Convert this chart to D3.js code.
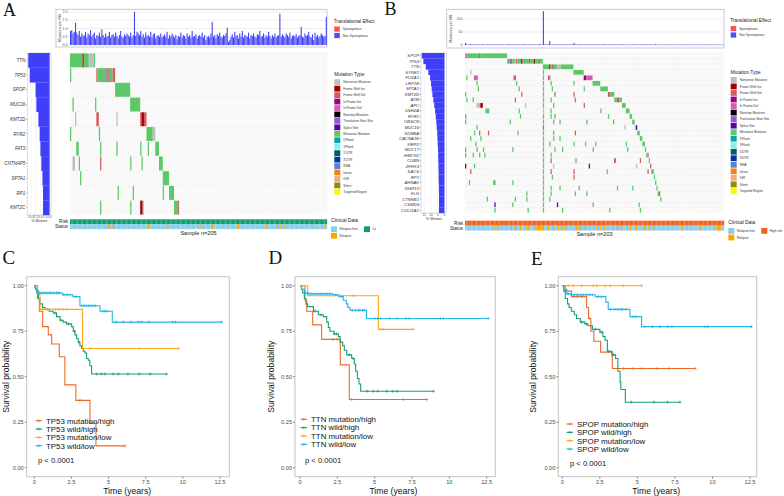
<!DOCTYPE html>
<html><head><meta charset="utf-8">
<script src="https://cdn.jsdelivr.net/npm/d3@7"></script>
<style>body{margin:0;background:#fff}svg{display:block}</style>
</head><body>
<svg id="c" width="784" height="496"></svg>
<script>
// ---------------- DATA ----------------
const genesA = ["TTN","TP53","SPOP","MUC16","KMT2D","RYR2","FAT3","CNTNAP5","SPTA1","RP1","KMT2C"];
const pctA = [11.6,10.8,7.6,7.2,6.1,5.4,5.0,4.5,3.9,3.6,3.6];
const pctTicksA = [10,7.5,5,2.5,0];
const tmbTicksA = [0,0.5,1,1.5,2];
const tmbA = [
0.85,0.9,0.7,0.8,1.35,0.75,0.6,0.85,0.5,0.7,
0.55,0.6,0.8,0.45,0.7,0.6,0.9,0.5,0.65,0.75,
0.4,0.6,0.55,0.75,0.5,0.95,0.6,0.45,0.7,0.5,
0.55,0.8,0.45,0.6,0.65,0.5,0.75,0.55,0.4,0.6,
0.85,0.5,0.45,0.65,0.55,0.7,0.6,0.5,0.75,0.45,
0.6,2.0,0.55,0.8,0.7,0.6,0.85,0.5,0.65,0.45,
0.75,0.55,0.6,0.5,0.8,0.45,0.65,0.7,0.4,0.55,
0.6,0.5,0.7,0.45,0.55,0.65,0.5,0.8,0.4,0.6,
0.5,0.7,0.55,0.45,0.6,0.35,0.55,0.5,0.75,0.45,
0.6,0.55,0.4,0.7,0.5,0.6,0.45,0.85,0.5,0.55,
0.65,0.4,0.55,0.6,0.5,0.75,0.45,0.6,0.3,0.5,
0.55,0.45,0.7,1.4,0.5,0.6,0.4,0.65,0.55,0.75,
0.5,0.45,0.6,0.55,0.7,1.05,0.2,0.3,0.5,0.65,
0.45,0.8,0.55,0.6,0.4,0.7,0.5,0.85,0.45,0.6,
0.55,0.5,0.75,0.4,0.6,0.55,0.7,0.5,0.45,0.65,
0.6,0.85,0.5,0.55,0.7,0.45,0.6,0.5,0.8,0.55,
0.4,0.6,0.5,0.7,0.45,0.55,0.6,1.9,0.5,0.65,
0.55,0.45,0.7,0.6,0.5,0.75,0.4,0.55,0.6,0.5,
0.65,0.45,0.55,0.6,1.1,0.5,0.45,0.7,0.55,0.6,
0.8,0.5,0.45,0.65,0.3,0.75,0.5,0.6,0.45,0.55,
0.7,0.6,0.5,0.55,1.7];
const mutA = [
["TTN",0,9,"MS"],["TTN",10,10,"FI"],["TTN",11,14,"MS"],["TTN",15,18,"NS"],["TTN",19,19,"MS"],
["TP53",0,0,"MS"],["TP53",21,21,"FD"],["TP53",22,28,"MS"],["TP53",29,29,"TS"],["TP53",30,30,"FD"],["TP53",31,33,"MS"],["TP53",34,35,"FD"],
["SPOP",36,47,"MS"],
["MUC16",2,2,"MS"],["MUC16",20,20,"MS"],["MUC16",48,55,"MS"],
["KMT2D",4,4,"NS"],["KMT2D",21,22,"FD"],["KMT2D",37,37,"NS"],["KMT2D",56,56,"FD"],["KMT2D",57,58,"FI"],["KMT2D",59,60,"FD"],
["RYR2",0,0,"MS"],["RYR2",23,23,"MS"],["RYR2",61,65,"MS"],["RYR2",66,67,"NS"],
["FAT3",5,6,"MS"],["FAT3",24,24,"MS"],["FAT3",37,37,"MS"],["FAT3",56,56,"MS"],["FAT3",62,62,"MS"],["FAT3",68,70,"MS"],
["CNTNAP5",2,3,"NS"],["CNTNAP5",7,7,"MS"],["CNTNAP5",24,24,"FD"],["CNTNAP5",48,48,"MS"],["CNTNAP5",57,57,"MS"],["CNTNAP5",71,73,"MS"],
["SPTA1",8,8,"MS"],["SPTA1",74,78,"MS"],
["RP1",38,38,"MS"],["RP1",50,50,"MS"],["RP1",74,74,"MS"],["RP1",79,82,"MS"],
["KMT2C",24,24,"MS"],["KMT2C",48,48,"MS"],["KMT2C",56,57,"FI"],["KMT2C",58,58,"NS"],["KMT2C",83,85,"MS"],["KMT2C",86,86,"FD"]];
const relapseA = [12,30,34,62,77,104,113,134,156,165,167,171,194,203];

const genesB = ["SPOP","TP53","TTN","SYNE1","FOXA1","LRP1B","SPTA1","KMT2D","ATM","APC","USH2A","RYR1","OBSCN","MUC16","KDM6A","CACNA1E","XIRP2","MUC17","HMCN1","CUBN","ZFHX3","SACS","RP1","AHNAK","IGSF10","FLG","CTNNB1","CSMD3","COL11A1"];
const pctB = [16.9,15.7,13.9,12.0,10.7,10.0,9.5,9.0,8.3,7.6,7.0,6.5,6.1,5.8,5.4,5.2,5.0,4.8,4.7,4.6,4.5,4.4,4.4,4.3,4.2,4.1,4.1,4.1,4.1];
const pctTicksB = [15,10,5,0];
const tmbTicksB = [0,50,100];
const tmbB = [
8,2,1.5,2,3,1,2,1.5,2.5,2,
1,2,1.5,3,2,1,2,2.5,1.5,2,
1,1.5,2,2.5,1,2,1.5,3,1,2,
2,1.5,1,2,3,2,1.5,2,2.5,1,
2,1.5,2,1,2.5,2,3,1.5,1,2,
1.5,2,2.5,1,2,1.5,2,1,3,2,
1.5,130,2,2.5,1.5,2,15,2,1.5,2.5,
1,2,1.5,2,1,2.5,2,1.5,2,1,
2,1.5,2.5,1,2,8,2,1.5,1,2,
2.5,1,2,1.5,2,1,2.5,2,1.5,1,
2,1.5,1,2,2.5,1,2,1.5,2,3,
1,2,1.5,2,1,2.5,1.5,2,1,2,
1.5,2,1,2.5,2,1.5,1,2,1.5,2,
1,2,2.5,1.5,1,2,1.5,2,1,2,
2.5,1,1.5,2,1,2,1.5,1,2,2.5,
1,1.5,2,1,2,1.5,1,2,1.5,1,
2,1,1.5,2,1,1.5,2,1,1.5,1,
2,1.5,1,2,1,1.5,1,2,1.5,1,
1,2,1.5,1,2,1,1.5,1,2,1,
1.5,1,2,1,1.5,1,2,1,1.5,1,
1,2,1];
const mutB = [
["SPOP",0,0,"MS"],["SPOP",1,1,"ID"],["SPOP",2,10,"MS"],["SPOP",11,11,"FD"],["SPOP",12,32,"MS"],
["TP53",33,34,"MS"],["TP53",35,35,"TS"],["TP53",36,36,"FD"],["TP53",37,38,"MS"],["TP53",39,39,"NS"],["TP53",40,40,"FD"],["TP53",41,43,"MS"],["TP53",44,44,"SS"],["TP53",45,45,"FD"],["TP53",46,49,"MS"],["TP53",50,50,"FD"],["TP53",51,53,"MS"],["TP53",54,54,"FI"],["TP53",55,57,"MS"],["TP53",58,58,"FD"],["TP53",59,60,"MS"],
["TTN",61,65,"MS"],["TTN",66,66,"FI"],["TTN",67,67,"MS"],["TTN",68,68,"FD"],["TTN",69,71,"MS"],["TTN",72,74,"NS"],["TTN",75,84,"MS"],
["SYNE1",4,4,"NS"],["SYNE1",61,61,"MS"],["SYNE1",85,92,"MS"],
["FOXA1",1,1,"MS"],["FOXA1",7,9,"ID"],["FOXA1",38,39,"FD"],["FOXA1",61,61,"MS"],["FOXA1",65,65,"FD"],["FOXA1",66,66,"ID"],["FOXA1",93,94,"II"],["FOXA1",95,99,"ID"],
["LRP1B",9,9,"MS"],["LRP1B",40,40,"MS"],["LRP1B",61,61,"MS"],["LRP1B",67,67,"MS"],["LRP1B",85,85,"MS"],["LRP1B",100,105,"MS"],
["SPTA1",10,10,"MS"],["SPTA1",42,42,"MS"],["SPTA1",61,61,"MS"],["SPTA1",68,68,"MS"],["SPTA1",93,93,"MS"],["SPTA1",106,111,"MS"],
["KMT2D",0,0,"MS"],["KMT2D",44,44,"FD"],["KMT2D",61,61,"MS"],["KMT2D",70,70,"FD"],["KMT2D",85,85,"FD"],["KMT2D",112,113,"FD"],["KMT2D",114,116,"MS"],
["ATM",1,1,"MS"],["ATM",6,6,"MS"],["ATM",39,39,"FD"],["ATM",61,61,"MS"],["ATM",67,67,"MS"],["ATM",86,86,"ID"],["ATM",117,118,"MS"],["ATM",119,120,"FD"],["ATM",121,122,"MS"],
["APC",9,11,"NS"],["APC",12,13,"FI"],["APC",47,47,"NS"],["APC",61,61,"MS"],["APC",69,69,"MS"],["APC",93,93,"FD"],["APC",123,125,"MS"],
["USH2A",16,18,"MS"],["USH2A",42,42,"MS"],["USH2A",61,61,"NS"],["USH2A",67,67,"MS"],["USH2A",106,106,"MS"],["USH2A",126,128,"MS"],
["RYR1",0,0,"MS"],["RYR1",43,43,"MS"],["RYR1",61,61,"MS"],["RYR1",67,67,"MS"],["RYR1",70,70,"MS"],["RYR1",112,112,"MS"],["RYR1",129,130,"MS"],
["OBSCN",0,0,"MS"],["OBSCN",35,35,"MS"],["OBSCN",61,61,"MS"],["OBSCN",69,69,"MS"],["OBSCN",74,74,"MS"],["OBSCN",95,95,"MS"],["OBSCN",116,116,"MS"],["OBSCN",131,132,"MS"],
["MUC16",9,9,"MS"],["MUC16",61,61,"FD"],["MUC16",125,125,"NS"],["MUC16",133,133,"NS"],["MUC16",134,134,"SS"],
["KDM6A",7,7,"MS"],["KDM6A",11,11,"FD"],["KDM6A",18,18,"FD"],["KDM6A",41,41,"MS"],["KDM6A",61,61,"MS"],["KDM6A",69,69,"MS"],["KDM6A",86,86,"FD"],["KDM6A",135,136,"MS"],
["CACNA1E",4,4,"MS"],["CACNA1E",12,12,"MS"],["CACNA1E",61,61,"MS"],["CACNA1E",69,69,"MS"],["CACNA1E",74,74,"MS"],["CACNA1E",137,138,"MS"],
["XIRP2",8,8,"MS"],["XIRP2",61,61,"MS"],["XIRP2",66,66,"MS"],["XIRP2",85,85,"MS"],["XIRP2",94,94,"MS"],["XIRP2",102,102,"MS"],["XIRP2",126,126,"MS"],["XIRP2",139,140,"MS"],
["MUC17",0,0,"MS"],["MUC17",9,9,"MS"],["MUC17",14,14,"MS"],["MUC17",37,37,"MS"],["MUC17",61,61,"MS"],["MUC17",70,70,"MS"],["MUC17",76,76,"MS"],["MUC17",100,100,"MS"],["MUC17",127,127,"MS"],["MUC17",141,141,"MS"],
["HMCN1",0,0,"MS"],["HMCN1",6,6,"MS"],["HMCN1",11,11,"MS"],["HMCN1",15,15,"MS"],["HMCN1",61,61,"MS"],["HMCN1",67,67,"MS"],["HMCN1",142,142,"MS"],["HMCN1",143,143,"ID"],
["CUBN",61,61,"MS"],["CUBN",67,67,"FD"],["CUBN",86,87,"NS"],["CUBN",117,117,"II"],["CUBN",137,137,"FD"],["CUBN",144,144,"MS"],
["ZFHX3",0,0,"FI"],["ZFHX3",7,7,"MS"],["ZFHX3",61,61,"MS"],["ZFHX3",69,69,"NS"],["ZFHX3",97,97,"FI"],["ZFHX3",134,134,"NS"],["ZFHX3",145,145,"FD"],
["SACS",4,4,"FD"],["SACS",61,61,"MS"],["SACS",67,67,"FD"],["SACS",85,85,"FD"],["SACS",111,111,"MS"],["SACS",143,143,"FD"],["SACS",146,147,"MS"],
["RP1",61,61,"MS"],["RP1",68,68,"MS"],["RP1",85,85,"FD"],["RP1",148,148,"MS"],
["AHNAK",3,3,"MS"],["AHNAK",22,23,"MS"],["AHNAK",37,37,"MS"],["AHNAK",61,61,"MS"],["AHNAK",149,149,"MS"],
["IGSF10",61,61,"MS"],["IGSF10",67,67,"MS"],["IGSF10",74,74,"MS"],["IGSF10",89,89,"MS"],["IGSF10",119,119,"MS"],["IGSF10",131,131,"MS"],["IGSF10",150,150,"MS"],
["FLG",48,48,"MS"],["FLG",61,61,"MS"],["FLG",67,67,"MS"],["FLG",86,86,"MS"],["FLG",95,95,"MS"],["FLG",151,151,"MS"],["FLG",152,152,"FD"],
["CTNNB1",17,17,"MS"],["CTNNB1",39,39,"MS"],["CTNNB1",48,48,"MS"],["CTNNB1",61,61,"MS"],["CTNNB1",66,66,"MS"],["CTNNB1",153,153,"MS"],
["CSMD3",23,23,"SS"],["CSMD3",37,37,"MS"],["CSMD3",61,61,"MS"],["CSMD3",72,72,"SS"],["CSMD3",100,100,"MS"],["CSMD3",136,136,"MS"],
["COL11A1",23,23,"MS"],["COL11A1",49,49,"MS"],["COL11A1",61,61,"MS"],["COL11A1",76,76,"MS"],["COL11A1",113,113,"MS"],["COL11A1",137,137,"MS"]];
const relapseB = [23,26,36,39,43,48,49,55,56,57,58,59,60,61,65,69,73,76,78,87,89,91,94,103,106,109,116,119,121,127,129,134,140,144,147,170,184,197,198,199,200];

const mutTypeKeys = ["NS","FI","FD","II","ID","NM","TS","SS","MS","F5","F3","U5","U3","RNA","IN","IGR","SI","TR"];
const mutTypeLabels = ["Nonsense Mutation","Frame Shift Ins","Frame Shift Del","In Frame Ins","In Frame Del","Nonstop Mutation","Translation Start Site","Splice Site","Missense Mutation","5'Flank","3'Flank","5'UTR","3'UTR","RNA","Intron","IGR","Silent","Targeted Region"];
const mutTypeColors = ["#bebebe","#a50000","#d35c5c","#a1007e","#d35cb9","#000000","#8e5cd5","#5d00a5","#5cc867","#00a8a8","#80f0f0","#006060","#0035a8","#5a80d8","#f57f1e","#f2ac78","#8b8b16","#fafa00"];

// Survival data (time in years, survival probability)
const survTicksY = [0,0.25,0.5,0.75,1];
const survTicksX = [0,2.5,5,7.5,10,12.5];
const tp53MutHigh = [[0,1],[0.22,0.93],[0.34,0.86],[0.56,0.775],[0.94,0.73],[1.17,0.68],[1.68,0.61],[2.06,0.455],[2.8,0.37],[3.75,0.245],[4.15,0.12]];
const tp53MutHighEnd = 6.1, tp53MutHighCens = [3.07,6.1];
const tp53WildHigh = [[0,1],[0.08,0.98],[0.16,0.96],[0.27,0.93],[0.38,0.9],[0.55,0.88],[0.72,0.87],[1.0,0.86],[1.28,0.85],[1.5,0.83],[1.73,0.81],[1.95,0.8],[2.17,0.79],[2.51,0.775],[2.62,0.75],[2.74,0.73],[2.85,0.71],[2.96,0.69],[3.07,0.67],[3.18,0.655],[3.3,0.64],[3.41,0.63],[3.52,0.6],[3.63,0.59],[3.74,0.56],[3.86,0.515]];
const tp53WildHighEnd = 8.9, tp53WildHighCens = [0.9,1.4,1.8,2.3,2.7,3.0,4.2,4.5,4.75,5.3,5.65,6.3,7.06,7.8,8.9];
const tp53MutLow = [[0,1],[0.22,0.96],[0.38,0.87],[3.25,0.655]];
const tp53MutLowEnd = 9.69, tp53MutLowCens = [0.55,0.7,1.4,1.65,1.95,2.2,3.79,7.06,9.69];
const tp53WildLow = [[0,1],[0.05,0.99],[0.12,0.98],[0.2,0.97],[0.3,0.96],[1.9,0.95],[2.6,0.94],[3.07,0.89],[4.42,0.86],[5.25,0.8]];
const tp53WildLowEnd = 12.6, tp53WildLowCens = [0.35,0.5,0.6,0.75,0.85,1.0,1.1,1.2,1.35,1.5,1.6,1.7,2.0,2.2,2.4,2.8,3.2,3.35,3.5,3.65,3.8,3.95,4.1,4.6,4.75,4.9,5.5,6.0,6.5,7.0,7.2,7.7,9.3,9.5,12.6];

const ttnMutHigh = [[0,1],[0.33,0.92],[0.45,0.86],[0.85,0.785],[1.45,0.705],[2.7,0.565],[3.3,0.375]];
const ttnMutHighEnd = 8.48, ttnMutHighCens = [2.2,2.46,3.46,6.92,8.48];
const ttnWildHigh = [[0,1],[0.1,0.98],[0.18,0.96],[0.29,0.93],[0.4,0.9],[0.51,0.885],[0.9,0.86],[1.23,0.84],[1.56,0.83],[1.79,0.8],[1.9,0.77],[2.0,0.75],[2.28,0.735],[2.57,0.72],[2.68,0.69],[2.86,0.67],[2.97,0.645],[3.13,0.62],[3.46,0.6],[3.64,0.57],[3.73,0.53],[3.84,0.49],[3.95,0.46],[4.06,0.42]];
const ttnWildHighEnd = 8.93, ttnWildHighCens = [1.0,1.4,2.3,2.45,3.3,3.55,4.5,4.9,5.2,5.8,6.2,6.5,8.93];
const ttnMutLow = [[0,1],[0.51,0.945],[5.25,0.76]];
const ttnMutLowEnd = 7.59, ttnMutLowCens = [3.57,5.42,5.6,7.59];
const ttnWildLow = [[0,1],[0.1,0.98],[0.3,0.96],[0.6,0.955],[2.2,0.95],[2.6,0.94],[2.9,0.92],[3.1,0.9],[3.2,0.88],[3.35,0.865],[4.45,0.82]];
const ttnWildLowEnd = 12.6, ttnWildLowCens = [0.4,0.6,0.8,1.0,1.2,1.4,1.6,1.8,2.0,2.4,2.8,3.5,3.7,3.9,4.0,4.2,4.3,5.0,5.2,5.4,6.0,6.5,7.1,7.3,9.4,9.6,12.6];

const spopMutHigh = [[0,1],[0.2,0.97],[0.62,0.94],[1.62,0.88],[1.75,0.82],[1.9,0.75],[2.1,0.695],[2.55,0.635],[3.33,0.545]];
const spopMutHighEnd = 8.84, spopMutHighCens = [1.0,1.3,1.8,4.06,4.7,5.3,6.3,7.1,8.84];
const spopWildHigh = [[0,1],[0.1,0.97],[0.2,0.93],[0.35,0.9],[0.45,0.88],[0.6,0.86],[0.8,0.84],[0.95,0.82],[1.2,0.8],[1.5,0.79],[1.7,0.78],[2.0,0.76],[2.5,0.745],[2.7,0.72],[2.85,0.7],[3.0,0.64],[3.3,0.62],[3.55,0.6],[3.7,0.53],[3.85,0.47],[3.9,0.43],[4.2,0.36]];
const spopWildHighEnd = 7.84, spopWildHighCens = [1.3,1.6,2.2,2.6,3.1,3.4,4.6,6.1,7.0,7.84];
const spopMutLow = [[0,1]];
const spopMutLowEnd = 5.28, spopMutLowCens = [0.4,0.73,1.29,2.06,2.29,2.84,3.18,4.06,5.28];
const spopWildLow = [[0,1],[0.1,0.98],[0.3,0.955],[0.6,0.95],[2.2,0.94],[2.9,0.91],[3.06,0.87],[4.5,0.83],[5.28,0.775]];
const spopWildLowEnd = 12.6, spopWildLowCens = [0.4,0.6,0.8,1.0,1.2,1.4,1.6,1.8,2.0,2.4,2.6,3.2,3.5,3.7,3.9,4.0,4.2,4.7,4.9,5.5,6.0,6.5,7.0,7.3,9.5,9.7,12.6];

const kmColors = ["#ee6a24","#1a9e77","#f9a61a","#22b5e6"];

// ---------------- DRAW ----------------
const svg = d3.select("#c");
const SANS = "'Liberation Sans', Arial, sans-serif";
const SERIF = "'Liberation Serif', 'Times New Roman', serif";
const BLUE = "#3f3ffa";
const mutColor = d3.scaleOrdinal().domain(mutTypeKeys).range(mutTypeColors);

function txt(g, x, y, s, size, opts = {}) {
  return g.append("text").attr("x", x).attr("y", y).attr("font-size", size)
    .attr("font-family", opts.family || SANS).attr("fill", opts.fill || "#222")
    .attr("text-anchor", opts.anchor || "start").attr("font-style", opts.style || null).text(s);
}

function drawOnco(o) {
  const g = svg.append("g");
  const n = o.tmb.length;
  const x = d3.scaleBand().domain(d3.range(n)).range([o.x0, o.x1]);
  const cw = x.bandwidth();
  const y = d3.scaleBand().domain(o.genes).range([o.y0, o.y1]);
  const rh = y.bandwidth();

  // TMB panel
  const tb = o.tmbBox;
  g.append("rect").attr("x", tb[0]).attr("y", tb[1]).attr("width", tb[2] - tb[0]).attr("height", tb[3] - tb[1])
    .attr("fill", "#fff").attr("stroke", "#bdbdbd").attr("stroke-width", 0.8);
  const ty = d3.scaleLinear().domain([0, o.tmbMax]).range(o.tmbRange);
  g.selectAll(null).data(o.tmbTicks).join("line")
    .attr("x1", o.tmbGridX).attr("x2", o.x1).attr("y1", d => ty(d)).attr("y2", d => ty(d))
    .attr("stroke", "#e3e3e3").attr("stroke-width", 0.6);
  g.selectAll(null).data(o.tmbTicks).join("text")
    .attr("x", o.tmbLabelX).attr("y", d => ty(d) + 1.2).attr("text-anchor", "end")
    .attr("font-size", 3.6).attr("font-family", SANS).attr("fill", "#555").text(o.tmbFmt);
  g.selectAll(null).data(o.tmb).join("rect")
    .attr("x", (d, i) => x(i)).attr("width", cw * 0.85)
    .attr("y", d => ty(d)).attr("height", d => Math.max(0.4, ty(0) - ty(d))).attr("fill", BLUE);
  g.append("text").attr("transform", `translate(${o.tmbTitleX},${(tb[1] + tb[3]) / 2}) rotate(-90)`)
    .attr("text-anchor", "middle").attr("font-size", 3.6).attr("font-family", SANS).attr("fill", "#333")
    .text("Mutations per MB");

  // % mutant panel
  const pb = o.pBox;
  const px = d3.scaleLinear().domain([0, o.pMax]).range(o.pRange);
  g.append("rect").attr("x", pb[0]).attr("y", o.y0).attr("width", pb[1] - pb[0]).attr("height", o.y1 - o.y0)
    .attr("fill", "#fff").attr("stroke", "#cfcfcf").attr("stroke-width", 0.7);
  g.selectAll(null).data(o.pTicks).join("line")
    .attr("x1", d => px(d)).attr("x2", d => px(d)).attr("y1", o.y0).attr("y2", o.y1)
    .attr("stroke", "#e8e8e8").attr("stroke-width", 0.5);
  g.selectAll(null).data(o.genes).join("rect")
    .attr("x", (d, i) => px(o.pct[i])).attr("width", (d, i) => px(0) - px(o.pct[i]))
    .attr("y", d => y(d)).attr("height", rh + 0.1).attr("fill", BLUE);
  g.selectAll(null).data(o.pTicks).join("text")
    .attr("x", d => px(d)).attr("y", o.y1 + 2.8).attr("text-anchor", "middle")
    .attr("font-size", 3.2).attr("font-family", SANS).attr("fill", "#555").text(o.pFmt);
  txt(g, (pb[0] + pb[1]) / 2, o.y1 + o.pTitleDy, "% Mutant", 3.8, {anchor: "middle", fill: "#333"});
  g.selectAll(null).data(o.genes).join("text")
    .attr("x", pb[0] - 2).attr("y", d => y(d) + rh / 2 + o.geneSize * 0.36)
    .attr("text-anchor", "end").attr("font-size", o.geneSize).attr("font-style", "italic")
    .attr("font-family", SANS).attr("fill", "#333").text(d => d);
  g.selectAll(null).data(o.genes).join("line")
    .attr("x1", pb[0] - 1.3).attr("x2", pb[0]).attr("y1", d => y(d) + rh / 2).attr("y2", d => y(d) + rh / 2)
    .attr("stroke", "#555").attr("stroke-width", 0.4);

  // oncoprint background grid
  g.append("rect").attr("x", o.x0).attr("y", o.y0).attr("width", o.x1 - o.x0).attr("height", o.y1 - o.y0).attr("fill", "#fcfcfc");
  g.selectAll(null).data(d3.range(n + 1)).join("line")
    .attr("x1", i => o.x0 + i * cw).attr("x2", i => o.x0 + i * cw).attr("y1", o.y0).attr("y2", o.y1)
    .attr("stroke", "#ececec").attr("stroke-width", 0.22);
  g.selectAll(null).data(o.genes).join("line")
    .attr("x1", o.x0).attr("x2", o.x1).attr("y1", d => y(d)).attr("y2", d => y(d))
    .attr("stroke", "#ebebeb").attr("stroke-width", 0.35);
  // mutations
  g.selectAll(null).data(o.muts).join("rect")
    .attr("x", d => x(d[1])).attr("width", d => x(d[2]) - x(d[1]) + cw)
    .attr("y", d => y(d[0]) + 0.4).attr("height", rh - 0.8)
    .attr("fill", d => mutColor(d[3]));

  // clinical rows
  const rel = new Set(o.relapse);
  g.selectAll(null).data(d3.range(n)).join("rect")
    .attr("x", i => x(i)).attr("width", cw + 0.15).attr("y", o.riskY).attr("height", o.clinH)
    .attr("fill", o.riskColor);
  g.selectAll(null).data(d3.range(n)).join("rect")
    .attr("x", i => x(i)).attr("width", cw + 0.15).attr("y", o.riskY + o.clinH).attr("height", o.clinH)
    .attr("fill", i => rel.has(i) ? "#ffa500" : "#87ceeb");
  txt(g, o.x0 - 2, o.riskY + o.clinH * 0.5 + 1.7, "Risk", 4.6, {anchor: "end", fill: "#222"});
  txt(g, o.x0 - 2, o.riskY + o.clinH * 1.5 + 1.7, "Status", 4.6, {anchor: "end", fill: "#222"});
  txt(g, (o.x0 + o.x1) / 2, o.sampleY, o.sampleLabel, 5.6, {anchor: "middle", fill: "#222"});

  // legends
  const L = o.legX;
  txt(g, L - 0.5, o.teY, "Translational Effect", 4.8, {fill: "#222"});
  [["Synonymous", "#ff4d4d"], ["Non Synonymous", "#4d4dff"]].forEach((d, i) => {
    g.append("rect").attr("x", L).attr("y", o.teY + 4 + i * 6.4).attr("width", 5.5).attr("height", 5.2).attr("fill", d[1]);
    txt(g, L + 8.5, o.teY + 7.8 + i * 6.4, d[0], 3.2, {fill: "#333"});
  });
  txt(g, L, o.mtY, "Mutation Type", 4.8, {fill: "#222"});
  mutTypeLabels.forEach((lab, i) => {
    g.append("rect").attr("x", L).attr("y", o.mtY + 3.5 + i * o.mtStep).attr("width", 6).attr("height", 5.8)
      .attr("fill", mutTypeColors[i]);
    txt(g, L + 9, o.mtY + 7.6 + i * o.mtStep, lab, 3.2, {fill: "#333"});
  });
  const clip = "clip" + o.id;
  svg.append("clipPath").attr("id", clip).append("rect").attr("x", o.cdX - 2).attr("y", 210).attr("width", o.cdClip).attr("height", 40);
  const cg = g.append("g").attr("clip-path", `url(#${clip})`);
  txt(cg, o.cdX, o.cdY, "Clinical Data", 4.8, {fill: "#222"});
  [["Relapse-free", "#87ceeb"], ["Relapse", "#ffa500"]].forEach((d, i) => {
    cg.append("rect").attr("x", o.cdX).attr("y", o.cdY + 4.5 + i * 6.6).attr("width", 6).attr("height", 5.8).attr("fill", d[1]);
    txt(cg, o.cdX + 8.5, o.cdY + 8.6 + i * 6.6, d[0], 3.2, {fill: "#333"});
  });
  cg.append("rect").attr("x", o.cdX + 33).attr("y", o.cdY + 4.5).attr("width", 6).attr("height", 5.8).attr("fill", o.riskColor);
  txt(cg, o.cdX + 41.5, o.cdY + 8.6, o.riskLabel, 3.2, {fill: "#333"});
}

drawOnco({
  id: "A", genes: genesA, pct: pctA, tmb: tmbA, muts: mutA, relapse: relapseA,
  x0: 70, x1: 327, y0: 53, y1: 215,
  tmbBox: [56, 9.3, 327, 47], tmbMax: 2, tmbRange: [45, 12], tmbTicks: tmbTicksA, tmbFmt: d3.format(".1f"),
  tmbGridX: 68, tmbLabelX: 67.5, tmbTitleX: 60.5,
  pBox: [27.3, 51], pMax: 10, pRange: [49.6, 31.2], pTicks: pctTicksA, pFmt: d3.format(".1f"), pTitleDy: 7, geneSize: 4.5,
  riskY: 219.3, clinH: 4.9, riskColor: "#0f9d6e", riskLabel: "Low risk", sampleY: 235.3, sampleLabel: "Sample n=205",
  legX: 334.3, teY: 22.5, mtY: 75.8, mtStep: 6.45, cdX: 331, cdY: 221.8, cdClip: 47
});
drawOnco({
  id: "B", genes: genesB, pct: pctB, tmb: tmbB, muts: mutB, relapse: relapseB,
  x0: 465, x1: 724, y0: 53, y1: 213,
  tmbBox: [446.7, 9.3, 724, 48], tmbMax: 100, tmbRange: [45, 19], tmbTicks: tmbTicksB, tmbFmt: d3.format("d"),
  tmbGridX: 463, tmbLabelX: 462.5, tmbTitleX: 452,
  pBox: [421, 446.5], pMax: 15, pRange: [444.5, 424.3], pTicks: pctTicksB, pFmt: d3.format("d"), pTitleDy: 7, geneSize: 4.2,
  riskY: 220.7, clinH: 4.9, riskColor: "#f0601e", riskLabel: "High risk", sampleY: 236.3, sampleLabel: "Sample n=203",
  legX: 730.7, teY: 22, mtY: 73.5, mtStep: 6.53, cdX: 728.3, cdY: 223.5, cdClip: 60
});

// panel letters
[["A", 3, 16, 18], ["B", 384.5, 14.5, 18], ["C", 2.5, 263.5, 19], ["D", 268.5, 263.5, 19], ["E", 531, 265, 19]]
  .forEach(d => txt(svg, d[1], d[2], d[0], d[3], {family: SERIF, fill: "#111"}));

function survAt(steps, t) {
  let s = steps[0][1];
  for (const p of steps) if (p[0] <= t) s = p[1];
  return s;
}
function plus(g, cx, cy, col, r = 1.5) {
  g.append("line").attr("x1", cx - r).attr("x2", cx + r).attr("y1", cy).attr("y2", cy).attr("stroke", col).attr("stroke-width", 0.7);
  g.append("line").attr("x1", cx).attr("x2", cx).attr("y1", cy - r).attr("y2", cy + r).attr("stroke", col).attr("stroke-width", 0.7);
}

function drawKM(o) {
  const g = svg.append("g");
  const x = d3.scaleLinear().domain([0, 12.5]).range(o.xr);
  const y = d3.scaleLinear().domain([0, 1]).range([467.7, 285.7]);
  const P = o.panel;
  g.append("rect").attr("x", P[0]).attr("y", P[1]).attr("width", P[2] - P[0]).attr("height", P[3] - P[1])
    .attr("fill", "#fff").attr("stroke", "#c4c4c4").attr("stroke-width", 1);
  g.selectAll(null).data(survTicksY).join("line")
    .attr("x1", P[0] - 2).attr("x2", P[0]).attr("y1", d => y(d)).attr("y2", d => y(d)).attr("stroke", "#444").attr("stroke-width", 0.6);
  g.selectAll(null).data(survTicksY).join("text")
    .attr("x", P[0] - 3).attr("y", d => y(d) + 2).attr("text-anchor", "end").attr("font-size", 5.6)
    .attr("font-family", SANS).attr("fill", "#4d4d4d").text(d3.format(".2f"));
  g.selectAll(null).data(survTicksX).join("line")
    .attr("x1", d => x(d)).attr("x2", d => x(d)).attr("y1", P[3]).attr("y2", P[3] + 2).attr("stroke", "#444").attr("stroke-width", 0.6);
  g.selectAll(null).data(survTicksX).join("text")
    .attr("x", d => x(d)).attr("y", P[3] + 7.3).attr("text-anchor", "middle").attr("font-size", 5.6)
    .attr("font-family", SANS).attr("fill", "#4d4d4d").text(d => d);
  txt(g, (o.xr[0] + o.xr[1]) / 2, 493.8, "Time (years)", 8.6, {anchor: "middle", fill: "#111"});
  g.append("text").attr("transform", `translate(${o.ylabX},${(P[1] + P[3]) / 2}) rotate(-90)`)
    .attr("text-anchor", "middle").attr("font-size", 8.6).attr("font-family", SANS).attr("fill", "#111")
    .text("Survival probability");
  const line = d3.line().x(d => x(d[0])).y(d => y(d[1])).curve(d3.curveStepAfter);
  o.groups.forEach((gr, k) => {
    const pts = gr.steps.concat([[gr.end, gr.steps[gr.steps.length - 1][1]]]);
    g.append("path").attr("d", line(pts)).attr("fill", "none").attr("stroke", kmColors[k]).attr("stroke-width", 1.1);
    gr.cens.forEach(t => plus(g, x(t), y(survAt(gr.steps, t)), kmColors[k]));
  });
  o.groups.forEach((gr, k) => {
    const ly = o.legY + k * 8.35;
    g.append("line").attr("x1", o.legX).attr("x2", o.legX + 6.5).attr("y1", ly).attr("y2", ly).attr("stroke", kmColors[k]).attr("stroke-width", 1.1);
    plus(g, o.legX + 3.25, ly, kmColors[k], 1.5);
    txt(g, o.legX + 10.5, ly + 2.8, gr.name, 7.9, {fill: "#111"});
  });
  txt(g, o.pX, o.pY, "p < 0.0001", 7.6, {fill: "#111"});
}

drawKM({
  panel: [26.7, 276.7, 229.3, 476.7], xr: [34.3, 220], ylabX: 8.5, legX: 35.5, legY: 420.7, pX: 38, pY: 463,
  groups: [
    {name: "TP53 mutation/high", steps: tp53MutHigh, end: tp53MutHighEnd, cens: tp53MutHighCens},
    {name: "TP53 wild/high", steps: tp53WildHigh, end: tp53WildHighEnd, cens: tp53WildHighCens},
    {name: "TP53 mutation/low", steps: tp53MutLow, end: tp53MutLowEnd, cens: tp53MutLowCens},
    {name: "TP53 wild/low", steps: tp53WildLow, end: tp53WildLowEnd, cens: tp53WildLowCens}]
});
drawKM({
  panel: [295, 276.7, 495.3, 476.7], xr: [300, 486.7], ylabX: 274, legX: 300.5, legY: 419.3, pX: 305, pY: 463,
  groups: [
    {name: "TTN mutation/high", steps: ttnMutHigh, end: ttnMutHighEnd, cens: ttnMutHighCens},
    {name: "TTN wild/high", steps: ttnWildHigh, end: ttnWildHighEnd, cens: ttnWildHighCens},
    {name: "TTN mutation/low", steps: ttnMutLow, end: ttnMutLowEnd, cens: ttnMutLowCens},
    {name: "TTN wild/low", steps: ttnWildLow, end: ttnWildLowEnd, cens: ttnWildLowCens}]
});
drawKM({
  panel: [558.3, 276.7, 756.7, 476.7], xr: [562.3, 750], ylabX: 535.5, legX: 566.5, legY: 424, pX: 570, pY: 465.5,
  groups: [
    {name: "SPOP mutation/high", steps: spopMutHigh, end: spopMutHighEnd, cens: spopMutHighCens},
    {name: "SPOP wild/high", steps: spopWildHigh, end: spopWildHighEnd, cens: spopWildHighCens},
    {name: "SPOP mutation/low", steps: spopMutLow, end: spopMutLowEnd, cens: spopMutLowCens},
    {name: "SPOP wild/low", steps: spopWildLow, end: spopWildLowEnd, cens: spopWildLowCens}]
});
</script>
</body></html>
